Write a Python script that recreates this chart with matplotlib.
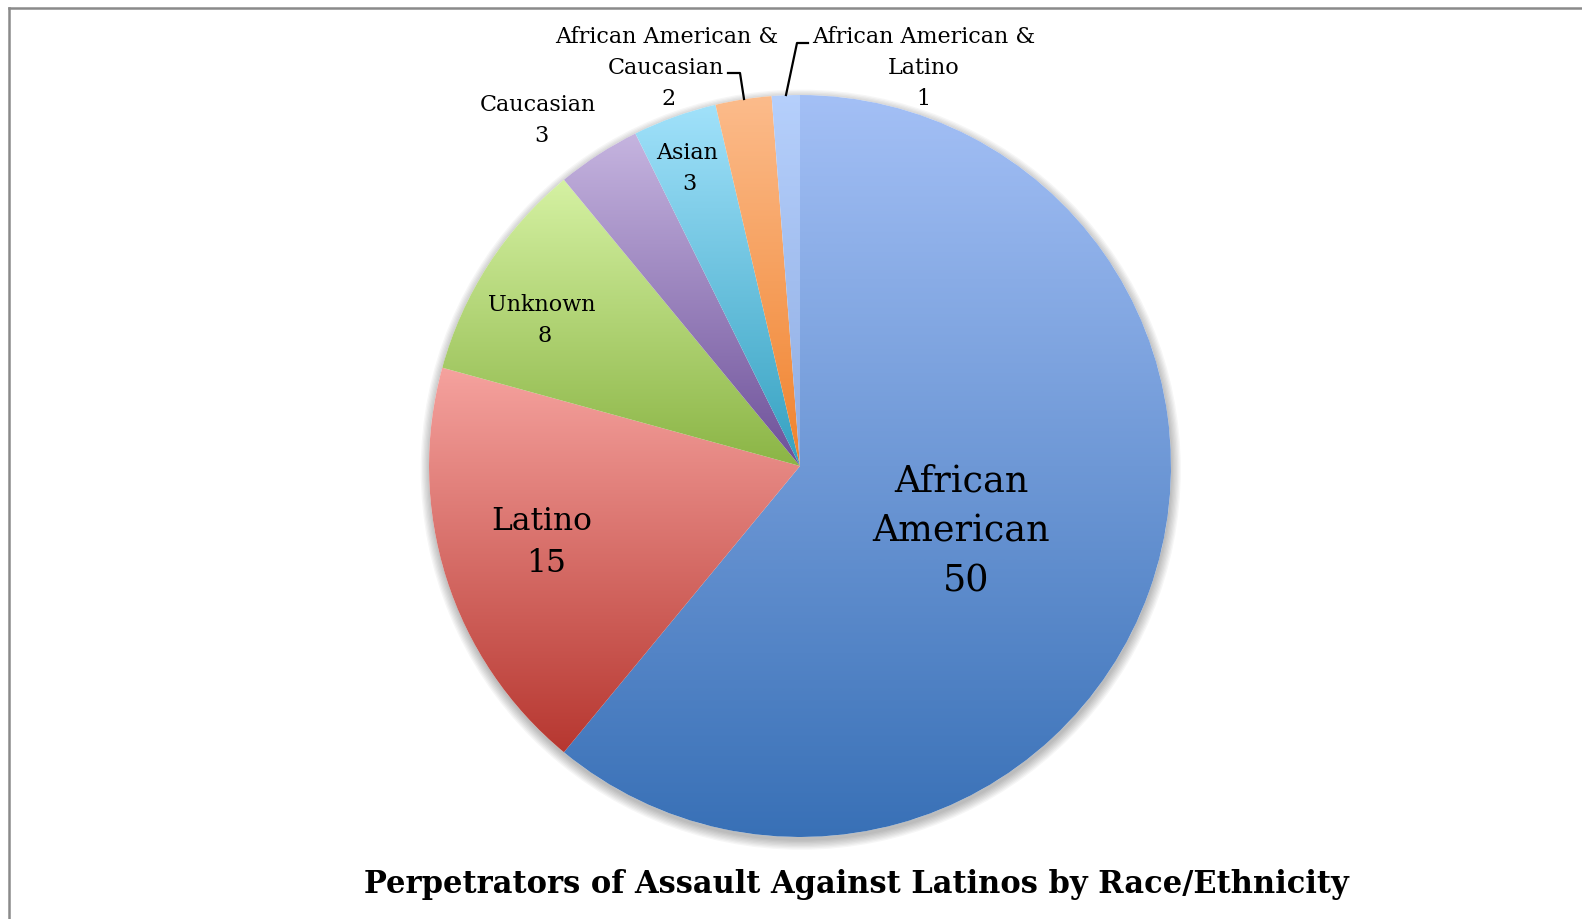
import numpy as np
import matplotlib
matplotlib.use("Agg")
import matplotlib.pyplot as plt
from matplotlib.colors import LinearSegmentedColormap
from matplotlib.patches import Circle
from matplotlib.lines import Line2D

# Data
categories = ["African\nAmerican", "Latino", "Unknown", "Caucasian", "Asian",
              "African American &\nCaucasian", "African American &\nLatino"]
counts = [50, 15, 8, 3, 3, 2, 1]
title = "Perpetrators of Assault Against Latinos by Race/Ethnicity"

# gradient colours per slice: (top, bottom)
grad_colors = [
    ("#a4c0f6", "#3870b6"),
    ("#f6a39f", "#b6362f"),
    ("#d6f2a4", "#8ab444"),
    ("#c6b5e0", "#6c4f98"),
    ("#a2e2fb", "#33a0c0"),
    ("#fcbc8c", "#f0822c"),
    ("#b6d0fc", "#8eace2"),
]

W, H = 1582, 919
DPI = 100
CX, CY, R = 800, 466, 371  # pie centre and radius in pixels (y from top)

fig = plt.figure(figsize=(W / DPI, H / DPI), dpi=DPI)
ax = fig.add_axes([(CX - R) / W, (H - CY - R) / H, 2 * R / W, 2 * R / H])
ax.set_axis_off()

SERIF = ["DejaVu Serif"]


def to_data(px, py):
    return (px - CX) / R, (CY - py) / R


# soft drop shadow beneath the pie
for k in range(8):
    ax.add_patch(Circle((0.002, -0.010), 1.0 + 0.0035 * k, facecolor="#000000",
                        alpha=0.035, edgecolor="none", zorder=0, clip_on=False))
ax.add_patch(Circle((0, 0), 1.0, facecolor="white", edgecolor="none",
                    zorder=0.5, clip_on=False))

wedges, _ = ax.pie(counts, startangle=90, counterclock=False, radius=1.0,
                   wedgeprops=dict(linewidth=0))

grad = np.linspace(0, 1, 512).reshape(-1, 1)
for w, (top, bot) in zip(wedges, grad_colors):
    w.set_facecolor("none")
    w.set_zorder(1)
    w.set_clip_on(False)
    t1, t2 = np.radians(w.theta1), np.radians(w.theta2)
    ang = np.linspace(t1, t2, 400)
    ys = np.concatenate([np.sin(ang), [0.0]])
    xs = np.concatenate([np.cos(ang), [0.0]])
    cmap = LinearSegmentedColormap.from_list("g", [bot, top])
    im = ax.imshow(grad, cmap=cmap, origin="lower", aspect="auto",
                   extent=[xs.min() - 0.01, xs.max() + 0.01, ys.min() - 0.01, ys.max() + 0.01],
                   interpolation="bilinear", zorder=1)
    im.set_clip_path(w)

ax.set_xlim(-1, 1)
ax.set_ylim(-1, 1)

# label layout per slice: font size, then (x, y) pixel centre of each line
label_layout = [
    (26.3, [(961, 482), (961, 532), (966, 581)]),
    (22.6, [(542, 521), (546, 564)]),
    (16, [(542, 305), (545, 336)]),
    (16, [(538, 105), (541, 136)]),
    (16, [(687, 153), (689, 184)]),
    (16, [(667, 37), (666, 68), (668, 99)]),
    (16, [(924, 37), (924, 68), (923, 99)]),
]
for cat, n, (fs, spots) in zip(categories, counts, label_layout):
    lines = cat.split("\n") + [str(n)]
    for line, (px, py) in zip(lines, spots):
        x, y = to_data(px, py)
        ax.text(x, y, line, ha="center", va="center", fontsize=fs,
                family=SERIF, zorder=3)

# leader lines for the two thin slices
for pts in ([(728, 73), (740, 73), (744, 99)],
            [(808, 43), (797, 43), (786, 95)]):
    d = [to_data(*p) for p in pts]
    ax.add_line(Line2D([p[0] for p in d], [p[1] for p in d], color="black",
                       linewidth=1.6, clip_on=False, zorder=3))

fig.text(856 / W, 1 - 885 / H, title, ha="center", va="center", fontsize=22,
         fontweight="bold", family=SERIF)

# outer frame (top and left edges)
fig.add_artist(Line2D([9 / W, 1], [1 - 8 / H, 1 - 8 / H], color="#8a8a8a",
                      linewidth=1.8, transform=fig.transFigure))
fig.add_artist(Line2D([9 / W, 9 / W], [0, 1 - 8 / H], color="#8a8a8a",
                      linewidth=1.8, transform=fig.transFigure))

fig.savefig("out.png", dpi=DPI, facecolor="white")
